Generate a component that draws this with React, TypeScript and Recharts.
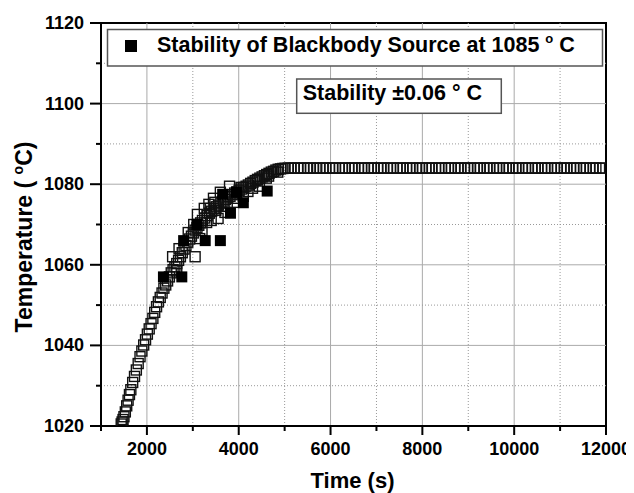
import { ReferenceArea, ReferenceLine, Scatter, ScatterChart, XAxis, YAxis } from 'recharts'

// rising part (hollow squares)
const riseTime = [
  1440, 1460, 1480, 1500, 1530, 1560, 1590, 1620, 1650, 1690, 1730, 1770, 1810, 1850, 1890, 1930, 1970, 2010, 2050, 2090,
  2130, 2170, 2210, 2250, 2290, 2330, 2370, 2410, 2450, 2490, 2530, 2570, 2610, 2650, 2690, 2730, 2770, 2810, 2850, 2890,
  2930, 2970, 3010, 3050, 3090, 3130, 3170, 3210, 3260, 3310, 3360, 3410, 3460, 3510, 3560, 3610, 3660, 3710, 3760, 3810,
  3860, 3910, 3960, 4010, 4060, 4110, 4160, 4210, 4260, 4310, 4360, 4410, 4460, 4510, 4560, 4610, 4660, 4710, 4760, 4810,
  4860, 4910, 4960,
]
const riseTemp = [
  1020.5, 1021, 1021.6, 1022.3, 1023.5, 1025, 1026.4, 1027.8, 1029, 1030.8, 1032.3, 1033.9, 1035.5, 1037.2, 1038.6, 1040.1, 1041.4, 1042.8, 1044.1, 1045.4,
  1046.7, 1048.2, 1049.6, 1050.8, 1051.9, 1053, 1054.2, 1055, 1056, 1057, 1058, 1058.8, 1059.5, 1060.3, 1061.1, 1062, 1063, 1063.9, 1064.8, 1065.6,
  1066.4, 1067.1, 1067.9, 1068.6, 1069.2, 1069.8, 1070.4, 1071, 1071.6, 1072.2, 1072.8, 1073.3, 1073.9, 1074.4, 1074.8, 1075.3, 1075.8, 1076.2, 1076.6, 1077,
  1077.4, 1077.8, 1078.1, 1078.5, 1078.8, 1079.2, 1079.5, 1079.8, 1080.2, 1080.5, 1080.9, 1081.2, 1081.5, 1081.8, 1082.1, 1082.4, 1082.7, 1083, 1083.2, 1083.5,
  1083.7, 1083.8, 1083.9,
]

// scattered hollow squares around the knee
const cloudTime = [
  2560, 3050, 2900, 3150, 3100, 3250, 3350, 3450, 3300, 3550, 3700, 3900, 4100, 4300, 4450, 3600, 3800, 4650, 4850,
  3200, 3400, 3500, 3750, 3950, 4200, 4400, 4600, 3380, 3480, 2700, 2650, 3020, 4050,
]
const cloudTemp = [
  1062, 1062, 1068, 1066.5, 1072.5, 1074, 1075, 1076.5, 1070.5, 1071.5, 1073, 1075.5, 1077, 1079, 1079.5, 1078, 1079.5, 1082, 1083,
  1068.5, 1071, 1073.5, 1074.5, 1076.5, 1078.2, 1080.8, 1081.5, 1074, 1075.5, 1064, 1058.5, 1070, 1079.2,
]

// filled squares
const filledTime = [2360, 2760, 2800, 3270, 3600, 3090, 3820, 4100, 3650, 3950, 4620]
const filledTemp = [1057, 1057, 1066, 1066, 1066, 1070, 1072.8, 1075.4, 1077.5, 1078, 1078.3]

// stable plateau
const plateauTime = [
  5010, 5080, 5140, 5210, 5290, 5350, 5420, 5500, 5560, 5630, 5700, 5770, 5840, 5900, 5980, 6050, 6110, 6190, 6260, 6320,
  6400, 6470, 6530, 6610, 6680, 6740, 6820, 6890, 6950, 7030, 7100, 7160, 7240, 7310, 7370, 7450, 7520, 7580, 7660, 7730,
  7790, 7870, 7940, 8000, 8080, 8150, 8210, 8290, 8360, 8420, 8500, 8570, 8630, 8710, 8780, 8840, 8920, 8990, 9050, 9130,
  9200, 9260, 9340, 9410, 9470, 9550, 9620, 9680, 9760, 9830, 9890, 9970, 10040, 10100, 10180, 10250, 10310, 10390, 10460, 10520,
  10600, 10670, 10730, 10810, 10880, 10940, 11020, 11090, 11150, 11230, 11300, 11360, 11440, 11510, 11570, 11650, 11720, 11780, 11860, 11930,
]
const plateauTemp = [
  1083.95, 1084.0, 1083.97, 1084.02, 1084.0, 1083.96, 1084.03, 1084.0, 1083.98, 1084.01, 1084.0, 1083.97, 1084.02, 1084.0, 1083.99, 1084.03, 1084.0, 1083.96, 1084.01, 1084.0,
  1083.98, 1084.02, 1084.0, 1083.97, 1084.01, 1084.0, 1083.99, 1084.03, 1084.0, 1083.96, 1084.02, 1084.0, 1083.98, 1084.01, 1084.0, 1083.97, 1084.02, 1084.0, 1083.99, 1084.01,
  1084.0, 1083.96, 1084.03, 1084.0, 1083.98, 1084.02, 1084.0, 1083.97, 1084.01, 1084.0, 1083.99, 1084.03, 1084.0, 1083.96, 1084.02, 1084.0, 1083.98, 1084.01, 1084.0, 1083.97,
  1084.02, 1084.0, 1083.99, 1084.01, 1084.0, 1083.96, 1084.03, 1084.0, 1083.98, 1084.02, 1084.0, 1083.97, 1084.01, 1084.0, 1083.99, 1084.03, 1084.0, 1083.96, 1084.02, 1084.0,
  1083.98, 1084.01, 1084.0, 1083.97, 1084.02, 1084.0, 1083.99, 1084.01, 1084.0, 1083.96, 1084.03, 1084.0, 1083.98, 1084.02, 1084.0, 1083.97, 1084.01, 1084.0, 1083.99, 1084.0,
]

const xTicks = [1000, 2000, 3000, 4000, 5000, 6000, 7000, 8000, 9000, 10000, 11000, 12000]
const xLabels = [2000, 4000, 6000, 8000, 10000, 12000]
const yTicks = [1020, 1030, 1040, 1050, 1060, 1070, 1080, 1090, 1100, 1110, 1120]
const yLabels = [1020, 1040, 1060, 1080, 1100, 1120]
const xMajorGrid = [2000, 4000, 6000, 8000, 10000]
const xMinorGrid = [3000, 5000, 7000, 9000, 11000]
const yMajorGrid = [1040, 1060, 1080, 1100]
const yMinorGrid = [1030, 1050, 1070, 1090, 1110]

const FONT = '"Liberation Sans", Arial, sans-serif'

const toPoints = (ts: number[], vs: number[]) => ts.map((t, i) => ({ t, temp: vs[i] }))
const risePoints = toPoints(riseTime, riseTemp)
const cloudPoints = toPoints(cloudTime, cloudTemp)
const filledPoints = toPoints(filledTime, filledTemp)
const plateauPoints = toPoints(plateauTime, plateauTemp)

const hollow = (p: any) => (
  <rect x={p.cx - 5} y={p.cy - 5} width={10} height={10} fill="none" stroke="#111" strokeWidth={1.4} />
)
const filled = (p: any) => <rect x={p.cx - 5.5} y={p.cy - 5.5} width={11} height={11} fill="#000" />

function XTick({ x, y, payload }: any) {
  const major = xLabels.includes(payload.value)
  return (
    <g>
      <line x1={x} x2={x} y1={y} y2={y + (major ? 9 : 5)} stroke="#000" strokeWidth={2} />
      {major && (
        <text x={x} y={y + 29} textAnchor="middle" fontSize={18} fontWeight="bold" fontFamily={FONT} fill="#000">
          {payload.value}
        </text>
      )}
    </g>
  )
}

function YTick({ x, y, payload }: any) {
  const major = yLabels.includes(payload.value)
  return (
    <g>
      <line x1={x - (major ? 11 : 5)} x2={x} y1={y} y2={y} stroke="#000" strokeWidth={2} />
      {major && (
        <text x={x - 17} y={y + 6} textAnchor="end" fontSize={18} fontWeight="bold" fontFamily={FONT} fill="#000">
          {payload.value}
        </text>
      )}
    </g>
  )
}

export default function App() {
  return (
    <div style={{ position: 'relative', width: 626, height: 485, fontFamily: FONT }}>
      <ScatterChart width={626} height={485} margin={{ top: 15, right: 28, bottom: 0, left: 0 }}>
        <XAxis
          dataKey="t"
          type="number"
          domain={[1000, 12000]}
          ticks={xTicks}
          interval={0}
          allowDataOverflow
          tickSize={0}
          tickMargin={0}
          tick={<XTick />}
          height={67}
          axisLine={{ stroke: '#000', strokeWidth: 2 }}
        />
        <YAxis
          dataKey="temp"
          type="number"
          domain={[1020, 1120]}
          ticks={yTicks}
          interval={0}
          allowDataOverflow
          tickSize={0}
          tickMargin={0}
          tick={<YTick />}
          width={93}
          axisLine={{ stroke: '#000', strokeWidth: 2 }}
        />
        {xMajorGrid.map(v => (
          <ReferenceLine key={'xm' + v} x={v} stroke="#aaa" strokeWidth={1} />
        ))}
        {xMinorGrid.map(v => (
          <ReferenceLine key={'xn' + v} x={v} stroke="#999" strokeWidth={1} strokeDasharray="1 2" />
        ))}
        {yMajorGrid.map(v => (
          <ReferenceLine key={'ym' + v} y={v} stroke="#aaa" strokeWidth={1} />
        ))}
        {yMinorGrid.map(v => (
          <ReferenceLine key={'yn' + v} y={v} stroke="#999" strokeWidth={1} strokeDasharray="1 2" />
        ))}
        <Scatter data={risePoints} shape={hollow} isAnimationActive={false} />
        <Scatter data={cloudPoints} shape={hollow} isAnimationActive={false} />
        <Scatter data={plateauPoints} shape={hollow} isAnimationActive={false} />
        <Scatter data={filledPoints} shape={filled} isAnimationActive={false} />
        <ReferenceArea x1={1000} x2={12000} y1={1020} y2={1120} fill="none" stroke="#000" strokeWidth={2} />
      </ScatterChart>
      <svg width={626} height={485} style={{ position: 'absolute', left: 0, top: 0, pointerEvents: 'none' }}>
        <g fontFamily={FONT} fontWeight="bold" fill="#000">
          <rect x={99.5} y={21.5} width={495} height={36.5} fill="#fff" stroke="#555" strokeWidth={1.5} />
          <rect x={117} y={32} width={12} height={12} fill="#000" />
          <text x={149} y={44} fontSize={21.5}>
            Stability of Blackbody Source at 1085{' '}
            <tspan fontSize={13} dy={-9}>o</tspan>
            <tspan dy={9}> C</tspan>
          </text>
          <rect x={288.7} y={71} width={204.6} height={34.3} fill="#fff" stroke="#555" strokeWidth={1.5} />
          <text x={294.7} y={92} fontSize={21.5}>
            Stability ±0.06 ° C
          </text>
          <text x={344.5} y={480} fontSize={22} textAnchor="middle">
            Time (s)
          </text>
          <text transform="translate(24,229) rotate(-90)" fontSize={23} textAnchor="middle">
            Temperature ( <tspan fontSize={14} dy={-9}>o</tspan>
            <tspan dy={9}>C)</tspan>
          </text>
        </g>
      </svg>
    </div>
  )
}
